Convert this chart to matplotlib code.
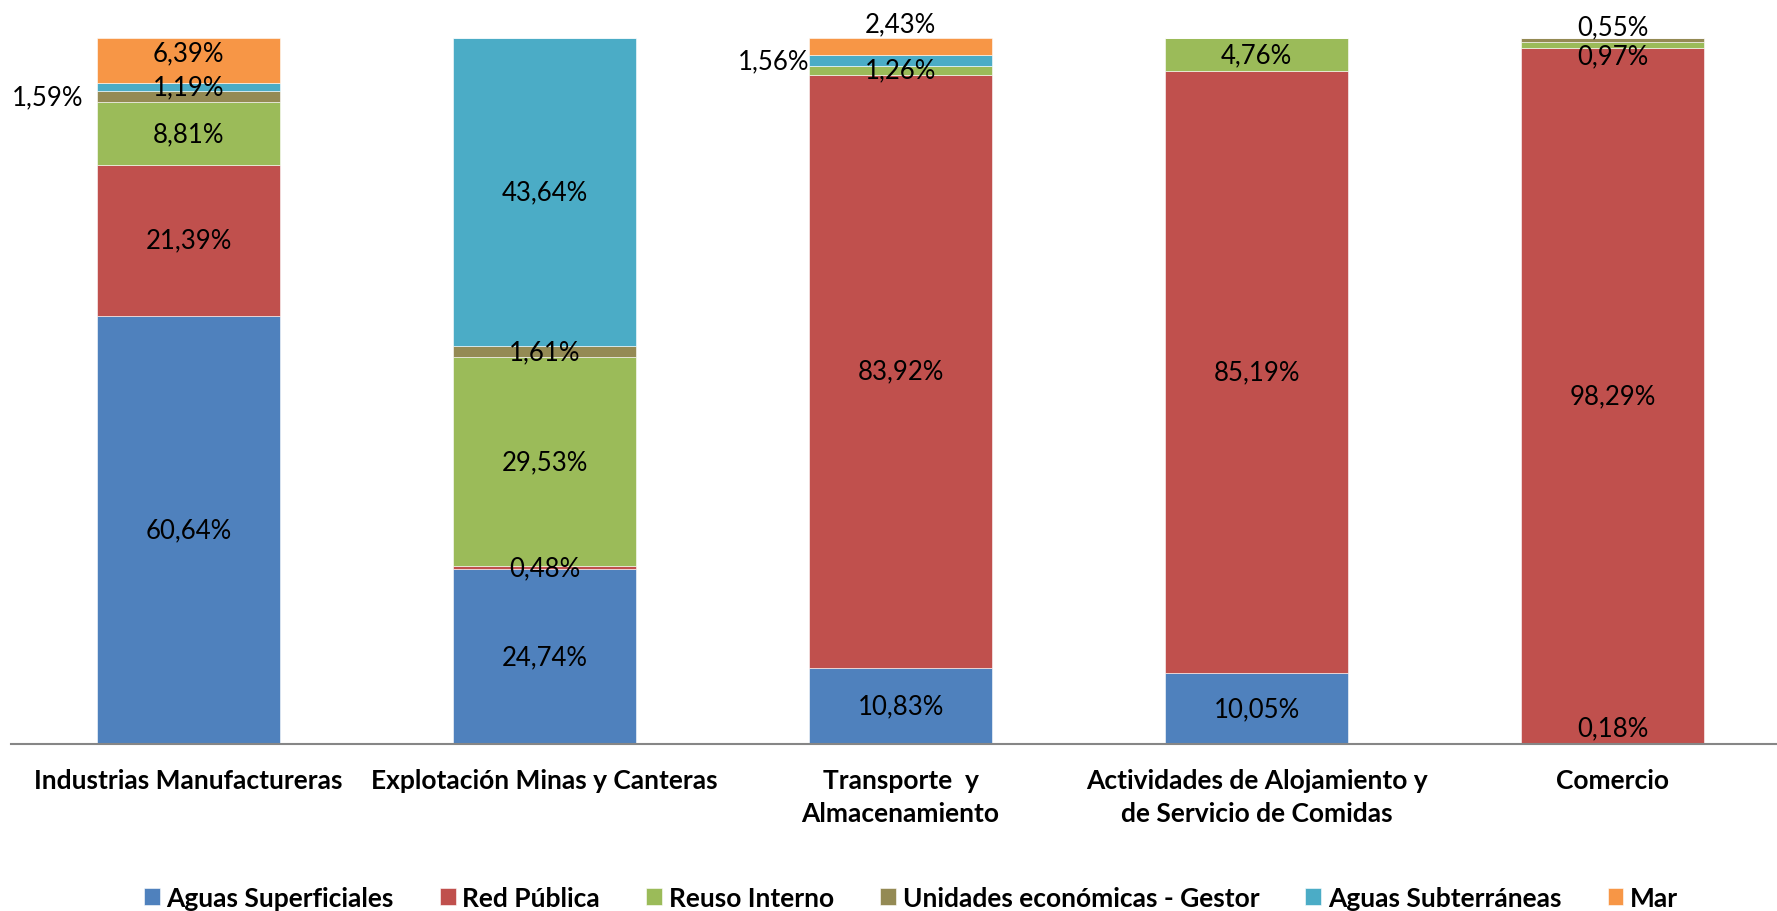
import numpy as np
from matplotlib import pyplot as plt

categories = ['Industrias Manufactureras', 'Explotación Minas y Canteras',
              'Transporte  y\nAlmacenamiento',
              'Actividades de Alojamiento y\nde Servicio de Comidas', 'Comercio']
series = ['Aguas Superficiales', 'Red Pública', 'Reuso Interno',
          'Unidades económicas - Gestor', 'Aguas Subterráneas', 'Mar']

aguas_superficiales = [60.64, 24.74, 10.83, 10.05, 0.18]
red_publica = [21.39, 0.48, 83.92, 85.19, 98.29]
reuso_interno = [8.81, 29.53, 1.26, 4.76, 0.97]
gestor = [1.59, 1.61, 0.0, 0.0, 0.55]
aguas_subterraneas = [1.19, 43.64, 1.56, 0.0, 0.0]
mar = [6.39, 0.0, 2.43, 0.0, 0.0]

colors = ['#4F81BD', '#C0504D', '#9BBB59', '#948A54', '#4BACC6', '#F79646']

# label tweaks (series idx, category idx) -> (dx pt, dy pt, ha)
label_moves = {
    (3, 0): (-10, 0, 'right'),
    (4, 2): (0, 0, 'right'),
    (5, 0): (0, 5, 'center'),
    (5, 2): ('top', 10, 'center'),
    (3, 4): ('top', 8, 'center'),
    (2, 4): (0, -8, 'center'),
    (0, 4): (0, 11, 'center'),
}

plt.rcParams['font.family'] = ['Lato', 'DejaVu Sans']

fig = plt.figure(figsize=(17.77, 9.12), dpi=100)
ax = fig.add_axes([0.006, 0.183, 0.994, 0.7746])

data = [aguas_superficiales, red_publica, reuso_interno, gestor, aguas_subterraneas, mar]
x = np.arange(len(categories))
width = 0.513
bottom = np.zeros(len(categories))

for i, (name, vals) in enumerate(zip(series, data)):
    vals = np.array(vals)
    ax.bar(x, vals, width, bottom=bottom, color=colors[i], label=name,
           edgecolor='white', linewidth=0.4)
    for j, v in enumerate(vals):
        if v <= 0:
            continue
        txt = f'{v:.2f}%'.replace('.', ',')
        xx, yy = x[j], bottom[j] + v / 2
        dx, dy, ha = 0, 0, 'center'
        if (i, j) in label_moves:
            dx, dy, ha = label_moves[(i, j)]
            if dx == 'top':
                dx = 0
                yy = bottom[j] + v
            if ha == 'right':
                xx = x[j] - width / 2
        ax.annotate(txt, (xx, yy), xytext=(dx, dy), textcoords='offset points',
                    ha=ha, va='center', fontsize=18.5, color='black')
    bottom += vals

ax.set_xlim(-0.5, 4.462)
ax.set_ylim(0, 100)
ax.set_yticks([])
ax.set_xticks(x)
ax.set_xticklabels(categories, fontsize=19, fontweight='bold', linespacing=1.45)
ax.tick_params(axis='x', length=0, pad=17)
for s in ['top', 'right', 'left']:
    ax.spines[s].set_visible(False)
ax.spines['bottom'].set_color('#868686')
ax.spines['bottom'].set_linewidth(1.5)

ax.legend(loc='center', bbox_to_anchor=(0.5127, 0.0143), bbox_transform=fig.transFigure,
          ncol=6, frameon=False, handlelength=0.6, handleheight=0.6,
          handletextpad=0.25, columnspacing=1.75,
          prop={'size': 19, 'weight': 'bold'})

plt.savefig('out.png', dpi=100)
